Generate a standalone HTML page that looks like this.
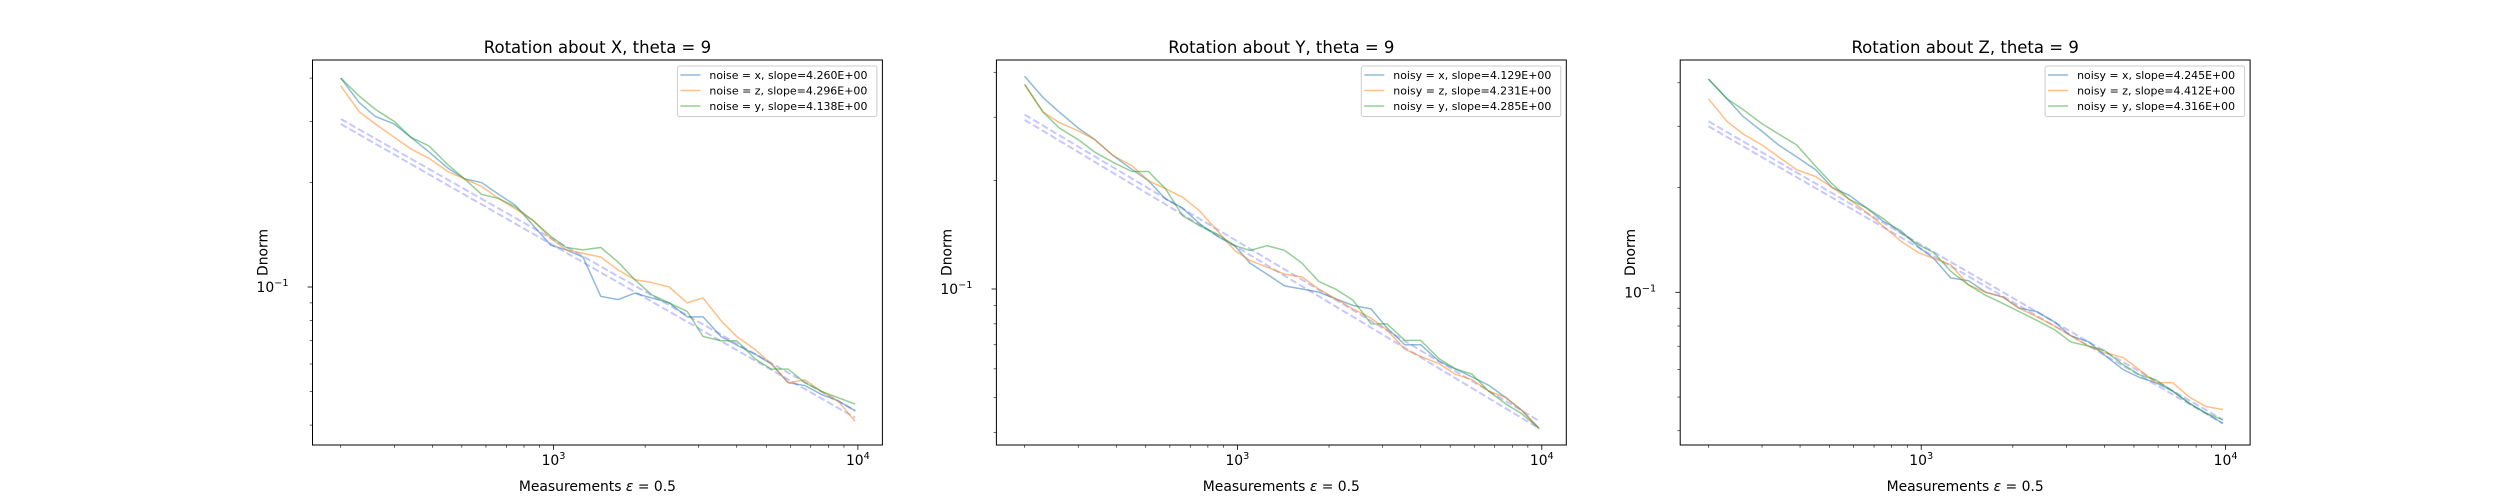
<!DOCTYPE html>
<html><head><meta charset="utf-8">
<style>
html,body{margin:0;padding:0;background:#fff;}
svg{display:block;font-family:"DejaVu Sans","Liberation Sans",sans-serif;}
</style></head>
<body>
<svg id="fig" width="2500" height="500" viewBox="0 0 2500 500" xmlns="http://www.w3.org/2000/svg"></svg>
<script>
// ---- data ----
const measurements = [200,230,260,300,340,390,450,510,580,660,750,860,980,1100,1250,1430,1630,1850,2100,2400,2750,3100,3550,4000,4600,5200,5900,6700,7600,8600,9800];
const panelTitles = ["Rotation about X, theta = 9","Rotation about Y, theta = 9","Rotation about Z, theta = 9"];
const legendLabelsX = ["noise = x, slope=4.260E+00","noise = z, slope=4.296E+00","noise = y, slope=4.138E+00"];
const legendLabelsY = ["noisy = x, slope=4.129E+00","noisy = z, slope=4.231E+00","noisy = y, slope=4.285E+00"];
const legendLabelsZ = ["noisy = x, slope=4.245E+00","noisy = z, slope=4.412E+00","noisy = y, slope=4.316E+00"];
const p1Blue   = [.40,.34,.31,.295,.27,.245,.22,.205,.2,.185,.172,.15,.132,.128,.122,.094,.092,.096,.093,.09,.082,.082,.072,.068,.064,.06,.053,.052,.049,.047,.044];
const p1Orange = [.38,.32,.295,.27,.25,.235,.215,.205,.195,.18,.168,.155,.138,.128,.125,.122,.112,.105,.103,.1,.09,.093,.08,.072,.066,.06,.053,.054,.05,.047,.041];
const p1Green  = [.40,.355,.325,.30,.27,.255,.225,.205,.185,.18,.17,.155,.14,.13,.128,.13,.118,.105,.095,.09,.085,.072,.07,.07,.062,.058,.058,.053,.05,.048,.046];
const p2Blue   = [.39,.34,.31,.28,.26,.235,.215,.2,.178,.168,.152,.14,.132,.118,.11,.102,.1,.098,.094,.09,.088,.078,.07,.07,.063,.06,.057,.054,.05,.046,.041];
const p2Orange = [.37,.31,.29,.275,.26,.235,.22,.2,.19,.18,.165,.145,.128,.12,.115,.11,.108,.1,.094,.088,.083,.077,.068,.065,.062,.058,.056,.052,.05,.046,.041];
const p2Green  = [.37,.31,.28,.26,.24,.225,.212,.212,.19,.16,.15,.142,.132,.128,.132,.128,.118,.105,.1,.093,.08,.08,.072,.072,.064,.06,.058,.052,.048,.045,.041];
const p3Blue   = [.41,.36,.32,.29,.265,.245,.225,.2,.19,.175,.16,.15,.135,.125,.11,.108,.1,.097,.09,.088,.082,.075,.072,.066,.06,.057,.055,.052,.048,.045,.042];
const p3Orange = [.36,.31,.285,.265,.245,.225,.215,.2,.185,.17,.155,.14,.13,.125,.12,.105,.1,.097,.09,.085,.08,.075,.07,.067,.065,.06,.055,.055,.05,.047,.046];
const p3Green  = [.41,.36,.335,.305,.285,.265,.23,.205,.185,.175,.163,.148,.137,.13,.115,.105,.098,.093,.088,.083,.078,.072,.07,.068,.062,.058,.056,.052,.048,.045,.043];
const fitStart1 = [.305,.295], fitEnd1 = [.044,.042];
const fitStart2 = [.305,.295], fitEnd2 = [.043,.041];
const fitStart3 = [.31,.30],   fitEnd3 = [.043,.042];
const fitX = [200,9800];
const xMajorTicks = [1000,10000];
const xMajorLabels = ["3","4"];
const xMinorTicks = [200,300,400,500,600,700,800,900,2000,3000,4000,5000,6000,7000,8000,9000];
const yMajorTicks = [0.1];
const yMinorTicks = [0.04,0.05,0.06,0.07,0.08,0.09,0.2,0.3,0.4];

// ---- layout ----
const NS="http://www.w3.org/2000/svg";
const svg=document.getElementById('fig');
const axLefts=[312.5,996.4,1680.2], axW=569.9, axTop=60, axBot=445;
const xLogMin=2.2083, xLogMax=4.0805;
const yLims=[[-1.4553,-0.3458],[-1.4333,-0.3639],[-1.4388,-0.3325]];
const colors=["#1f77b4","#ff7f0e","#2ca02c"];
const panels=[
 {b:p1Blue,o:p1Orange,g:p1Green,fs:fitStart1,fe:fitEnd1,leg:legendLabelsX},
 {b:p2Blue,o:p2Orange,g:p2Green,fs:fitStart2,fe:fitEnd2,leg:legendLabelsY},
 {b:p3Blue,o:p3Orange,g:p3Green,fs:fitStart3,fe:fitEnd3,leg:legendLabelsZ}];

function mk(tag,attrs,parent){const e=document.createElementNS(NS,tag);for(const k in attrs)e.setAttribute(k,attrs[k]);(parent||svg).appendChild(e);return e;}

panels.forEach((p,i)=>{
  const L=axLefts[i], R=L+axW, yl=yLims[i];
  const xs=v=>L+(Math.log10(v)-xLogMin)/(xLogMax-xLogMin)*axW;
  const ys=v=>axBot-(Math.log10(v)-yl[0])/(yl[1]-yl[0])*(axBot-axTop);
  const g=mk('g',{});
  
  
  const clipId='clip'+i;
  const cp=mk('clipPath',{id:clipId},g); mk('rect',{x:L,y:axTop,width:axW,height:axBot-axTop},cp);
  const plot=mk('g',{'clip-path':'url(#'+clipId+')'},g);
  p.fs.forEach((s,k)=>{
    const ln=mk('line',{x1:xs(fitX[0]),y1:ys(s),x2:xs(fitX[1]),y2:ys(p.fe[k]),stroke:'rgba(0,0,255,0.22)','stroke-width':2,'stroke-dasharray':'7,3'},plot);
    
    
  });
  [p.b,p.o,p.g].forEach((ser,k)=>{
    const d=ser.map((v,j)=>(j?'L':'M')+xs(measurements[j]).toFixed(2)+','+ys(v).toFixed(2)).join('');
    const path=mk('path',{d:d,fill:'none',stroke:colors[k],'stroke-opacity':0.5,'stroke-width':1.5},plot);
    
    
  });
  const fr=mk('rect',{x:L,y:axTop,width:axW,height:axBot-axTop,fill:'none',stroke:'#000','stroke-width':1},g);
  
  
  xMajorTicks.forEach((t,k)=>{
    const x=xs(t);
    mk('line',{x1:x,y1:axBot,x2:x,y2:axBot+4.9,stroke:'#000','stroke-width':0.8},g);
    const tx=mk('text',{x:x,y:axBot+20,'font-size':13.9,'text-anchor':'middle'},g);
    
    
    tx.appendChild(document.createTextNode('10'));
    const sp=mk('tspan',{dy:-6,'font-size':9.7},tx); sp.textContent=xMajorLabels[k];
  });
  xMinorTicks.forEach(t=>{const x=xs(t);mk('line',{x1:x,y1:axBot,x2:x,y2:axBot+2.8,stroke:'#000','stroke-width':0.6},g);});
  yMajorTicks.forEach(t=>{
    const y=ys(t);
    mk('line',{x1:L,y1:y,x2:L-4.9,y2:y,stroke:'#000','stroke-width':0.8},g);
    const tx=mk('text',{x:L-24,y:y+5,'font-size':13.9,'text-anchor':'end'},g);
    
    
    tx.appendChild(document.createTextNode('10'));
    const sp=mk('tspan',{dy:-6,'font-size':9.7},tx); sp.textContent='\u22121';
  });
  yMinorTicks.forEach(t=>{const y=ys(t);if(y>axTop&&y<axBot)mk('line',{x1:L,y1:y,x2:L-2.8,y2:y,stroke:'#000','stroke-width':0.6},g);});
  const ti=mk('text',{x:L+axW/2,y:53,'font-size':16.5,'text-anchor':'middle'},g);
  
  
  ti.textContent=panelTitles[i];
  const xl=mk('text',{x:L+axW/2,y:491,'font-size':13.9,'text-anchor':'middle'},g);
  
  
  xl.appendChild(document.createTextNode('Measurements '));
  const ep=mk('tspan',{'font-style':'italic'},xl); ep.textContent='\u03b5';
  xl.appendChild(document.createTextNode(' = 0.5'));
  const yt=mk('text',{x:0,y:0,'font-size':13.9,'text-anchor':'middle',transform:'translate('+(L-45)+','+((axTop+axBot)/2)+') rotate(-90)'},g);
  
  
  yt.textContent='Dnorm';
  const lg=mk('g',{},g);
  
  
  const lx=R-205, ly=66;
  mk('rect',{x:lx,y:ly,width:199.5,height:50.5,rx:2,fill:'#fff','fill-opacity':0.8,stroke:'#ccc','stroke-width':1},lg);
  p.leg.forEach((lab,k)=>{
    const yy=ly+9+k*15.5;
    mk('line',{x1:lx+3,y1:yy,x2:lx+23,y2:yy,stroke:colors[k],'stroke-opacity':0.5,'stroke-width':1.5},lg);
    const t=mk('text',{x:lx+32,y:yy+4,'font-size':10.8,textLength:158,lengthAdjust:'spacingAndGlyphs'},lg);
    
    
    t.textContent=lab;
  });
});
</script>
</body></html>
